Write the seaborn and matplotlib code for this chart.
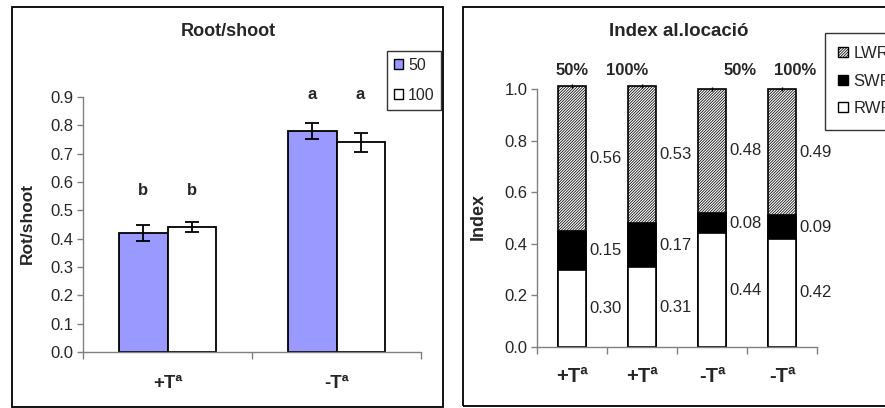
import numpy as np
import pandas as pd
import matplotlib
matplotlib.use("Agg")
import matplotlib.pyplot as plt
import seaborn as sns
from matplotlib.patches import Rectangle, Patch

# ---- Root/shoot ratio ----
treatments = ["+Tª", "-Tª"]
doses = ["50", "100"]
rootshoot_50 = [0.42, 0.78]
rootshoot_100 = [0.44, 0.74]
err_50 = [0.027, 0.028]
err_100 = [0.018, 0.034]
letters_50 = ["b", "a"]
letters_100 = ["b", "a"]

# ---- Allocation index (stacked) ----
alloc_ticks = ["+Tª", "+Tª", "-Tª", "-Tª"]
alloc_water = ["50%", "100%", "50%", "100%"]
rwr = [0.30, 0.31, 0.44, 0.42]
swr = [0.15, 0.17, 0.08, 0.09]
lwr = [0.56, 0.53, 0.48, 0.49]

sns.set_style("white")
plt.rcParams["font.family"] = ["Liberation Sans", "DejaVu Sans"]
plt.rcParams["hatch.linewidth"] = 0.55

W, H = 885, 408
fig = plt.figure(figsize=(W / 100, H / 100), dpi=100)
HATCH = "/" * 12


def fx(px):
    return px / W


def fy(py):
    return 1 - py / H


def style_axes(ax, xlab_size, xlab_pad):
    for s in ["top", "right"]:
        ax.spines[s].set_visible(False)
    for s in ["left", "bottom"]:
        ax.spines[s].set_color("#808080")
        ax.spines[s].set_linewidth(1.0)
    ax.tick_params(axis="y", which="major", direction="out", length=4,
                   width=1, color="#808080", labelsize=12, pad=3, left=True)
    ax.tick_params(axis="x", which="major", direction="out", length=5,
                   width=1, color="#808080", labelbottom=False, bottom=True)
    ax.tick_params(axis="x", which="minor", length=0, labelsize=xlab_size,
                   pad=xlab_pad)
    ax.set_xlabel("")
    ax.set_ylabel("")
    ax.grid(False)


# panel frames
fig.add_artist(Rectangle((fx(12), fy(407)), fx(443 - 12), (407 - 7) / H,
                         transform=fig.transFigure, fill=False,
                         edgecolor="black", linewidth=1.3))
fig.add_artist(Rectangle((fx(463), fy(406)), fx(960 - 463), (406 - 7) / H,
                         transform=fig.transFigure, fill=False,
                         edgecolor="black", linewidth=1.3))

# ================= left panel =================
ax1 = fig.add_axes([fx(83), fy(352), fx(421 - 83), (352 - 97) / H])
df1 = pd.DataFrame({
    "treat": treatments * 2,
    "dose": [doses[0]] * len(treatments) + [doses[1]] * len(treatments),
    "value": rootshoot_50 + rootshoot_100,
})
sns.barplot(data=df1, x="treat", y="value", hue="dose", order=treatments,
            hue_order=doses, palette=["#9999FF", "white"], saturation=1,
            width=0.57, edgecolor="black", linewidth=1.3, errorbar=None,
            legend=False, ax=ax1)

errs = [err_50, err_100]
letters = [letters_50, letters_100]
group_top = [max(a, b) for a, b in zip(rootshoot_50, rootshoot_100)]
bars = [p for p in ax1.patches if p.get_height() > 0]
for bar in bars:
    xc = bar.get_x() + bar.get_width() / 2
    j = int(round(xc))
    k = 0 if xc < j else 1
    ax1.errorbar(xc, bar.get_height(), yerr=errs[k][j], color="black",
                 capsize=5, capthick=1.3, elinewidth=1.3, fmt="none")
    ax1.text(xc, group_top[j] + 0.13, letters[k][j], ha="center",
             va="center", fontsize=12, fontweight="bold")

ax1.set_ylim(0, 0.9)
ax1.set_xlim(-0.5, len(treatments) - 0.5)
ax1.set_yticks(np.arange(0, 0.91, 0.1))
ax1.set_yticklabels([f"{v:.1f}" for v in np.arange(0, 0.91, 0.1)])
ax1.set_xticks(np.arange(-0.5, len(treatments), 1.0))
ax1.set_xticks(range(len(treatments)), labels=treatments, minor=True,
               fontweight="bold")
style_axes(ax1, 13.5, 16.5)

fig.text(fx(228), fy(32), "Root/shoot", ha="center", va="center",
         fontsize=13, fontweight="bold")
fig.text(fx(27), fy(223), "Rot/shoot", ha="center", va="center",
         rotation=90, fontsize=12.5, fontweight="bold")

leg1 = fig.legend(
    handles=[Patch(facecolor="#9999FF", edgecolor="black", label=doses[0]),
             Patch(facecolor="white", edgecolor="black", label=doses[1])],
    loc="upper left", bbox_to_anchor=(fx(387), fy(51)), frameon=True,
    fancybox=False, edgecolor="black", fontsize=11.5, handlelength=0.6,
    handleheight=0.6, handletextpad=0.3, borderpad=0.42, labelspacing=0.95,
    borderaxespad=0)
leg1.get_frame().set_linewidth(1.0)

# ================= right panel =================
ax2 = fig.add_axes([fx(537), fy(347), fx(817 - 537), (347 - 89) / H])
pos = [f"c{i}" for i in range(len(rwr))]
total = [a + b + c for a, b, c in zip(rwr, swr, lwr)]
mid = [a + b for a, b in zip(rwr, swr)]
bw = 0.41
sns.barplot(x=pos, y=total, order=pos, color="white", saturation=1,
            width=bw, edgecolor="black", linewidth=1.2, hatch=HATCH,
            errorbar=None, ax=ax2)
sns.barplot(x=pos, y=mid, order=pos, color="black", saturation=1,
            width=bw, edgecolor="black", linewidth=1.2, errorbar=None, ax=ax2)
sns.barplot(x=pos, y=rwr, order=pos, color="white", saturation=1,
            width=bw, edgecolor="black", linewidth=1.2, errorbar=None, ax=ax2)
for p in ax2.patches:
    p.set_clip_on(False)
ax2.errorbar(range(len(total)), total, yerr=0.008, fmt="none", color="black",
             elinewidth=1.0, capsize=0, clip_on=False)

for i in range(len(rwr)):
    xr = i + bw / 2 + 0.04
    for val, yc in [(rwr[i], rwr[i] / 2),
                    (swr[i], rwr[i] + swr[i] / 2),
                    (lwr[i], mid[i] + lwr[i] / 2)]:
        ax2.text(xr, yc, f"{val:.2f}", ha="left", va="center", fontsize=12,
                 bbox=dict(facecolor="white", edgecolor="none", pad=0.8))

water_x = [0.0, 0.79, 2.4, 3.19]
for xw, lab in zip(water_x, alloc_water):
    ax2.text(xw, 1.07, lab, ha="center", va="center", fontsize=12,
             fontweight="bold")

ax2.set_ylim(0, 1.0)
ax2.set_xlim(-0.5, len(rwr) - 0.5)
yt = np.arange(0, 1.01, 0.2)
ax2.set_yticks(yt)
ax2.set_yticklabels([f"{v:.1f}" for v in yt])
ax2.set_xticks(np.arange(-0.5, len(rwr), 1.0))
ax2.set_xticks(range(len(rwr)), labels=alloc_ticks, minor=True,
               fontweight="bold")
style_axes(ax2, 14.5, 14.5)

fig.text(fx(679), fy(32), "Index al.locació", ha="center", va="center",
         fontsize=13.5, fontweight="bold")
fig.text(fx(478), fy(217), "Index", ha="center", va="center",
         rotation=90, fontsize=13, fontweight="bold")

leg2 = fig.legend(
    handles=[Patch(facecolor="white", edgecolor="black", hatch=HATCH,
                   label="LWR"),
             Patch(facecolor="black", edgecolor="black", label="SWR"),
             Patch(facecolor="white", edgecolor="black", label="RWR")],
    loc="upper left", bbox_to_anchor=(fx(825), fy(33)), frameon=True,
    fancybox=False, edgecolor="black", fontsize=12, handlelength=0.55,
    handleheight=0.55, handletextpad=0.35, borderpad=0.8, labelspacing=0.75,
    borderaxespad=0)
leg2.get_frame().set_linewidth(1.0)

fig.savefig("out.png", dpi=100, facecolor="white")
